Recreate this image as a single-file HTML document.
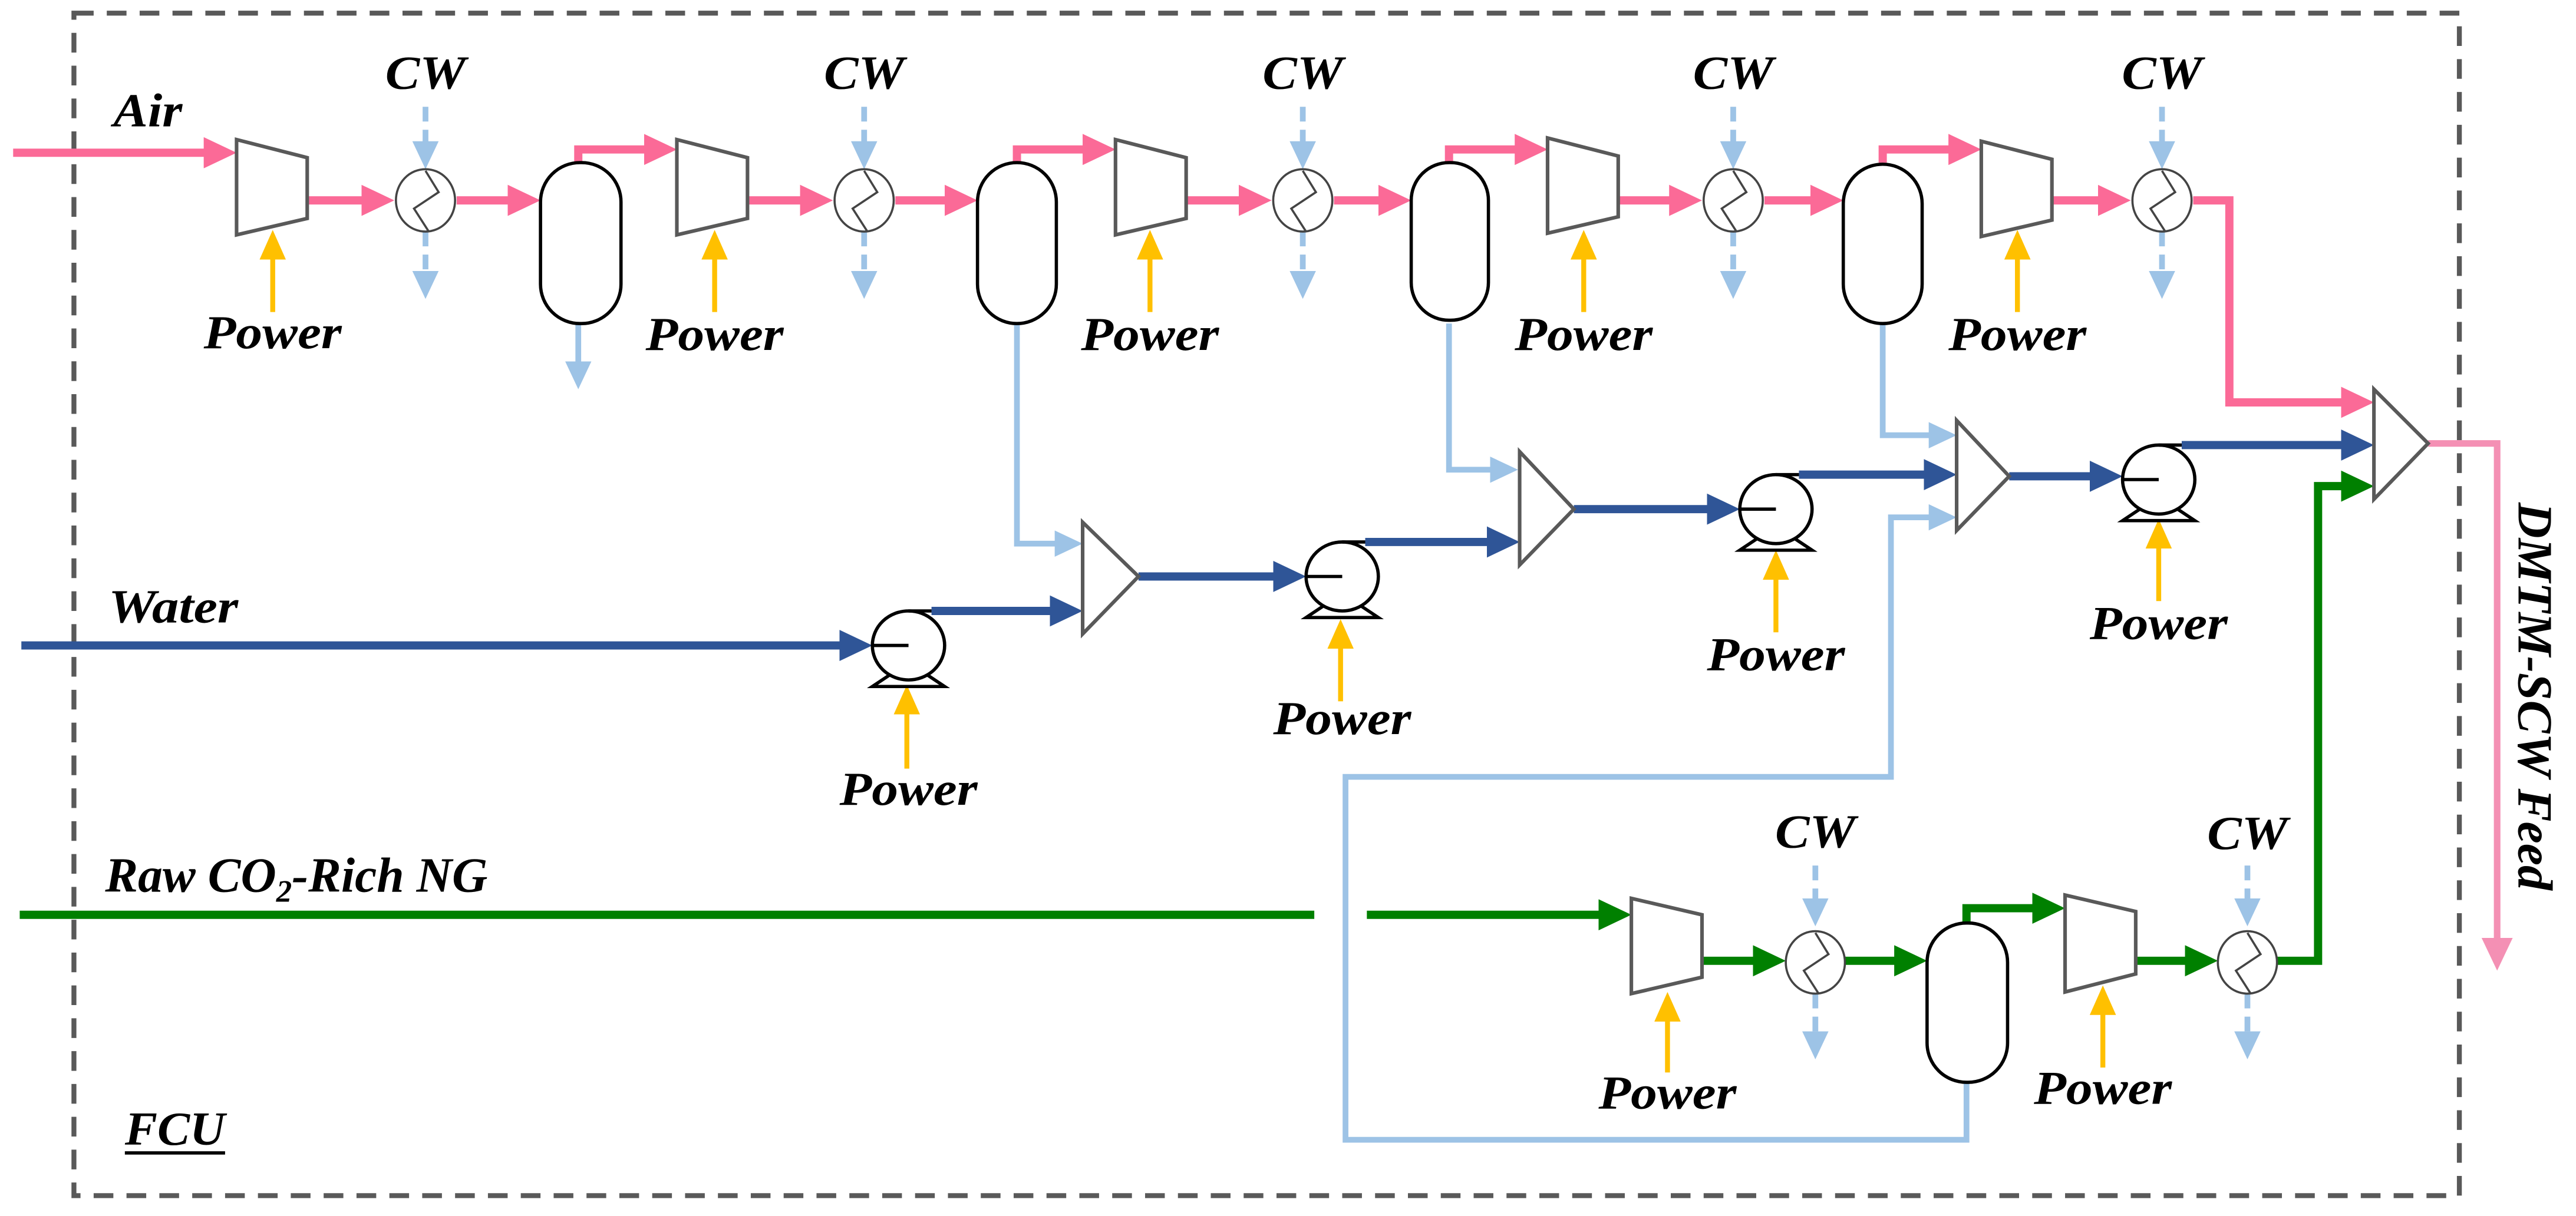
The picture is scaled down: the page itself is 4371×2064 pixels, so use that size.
<!DOCTYPE html>
<html><head><meta charset="utf-8"><style>
html,body{margin:0;padding:0;background:#fff;}
svg{display:block;}
text{font-family:"Liberation Serif",serif;font-weight:bold;font-style:italic;fill:#000;}
</style></head><body>
<svg width="4371" height="2064" viewBox="0 0 1568 740.4" preserveAspectRatio="none" xmlns="http://www.w3.org/2000/svg">
<defs>
<marker id="mP" markerUnits="userSpaceOnUse" markerWidth="20" markerHeight="19" refX="5" refY="9.5" orient="auto"><path d="M0,0 L20,9.5 L0,19 z" fill="#fb6a97"/></marker>
<marker id="mB" markerUnits="userSpaceOnUse" markerWidth="20" markerHeight="19" refX="5" refY="9.5" orient="auto"><path d="M0,0 L20,9.5 L0,19 z" fill="#2f5597"/></marker>
<marker id="mG" markerUnits="userSpaceOnUse" markerWidth="20" markerHeight="19" refX="5" refY="9.5" orient="auto"><path d="M0,0 L20,9.5 L0,19 z" fill="#008000"/></marker>
<marker id="mL" markerUnits="userSpaceOnUse" markerWidth="17" markerHeight="16" refX="5" refY="8" orient="auto"><path d="M0,0 L17,8 L0,16 z" fill="#9dc3e6"/></marker>
<marker id="mY" markerUnits="userSpaceOnUse" markerWidth="18" markerHeight="16" refX="3" refY="8" orient="auto"><path d="M0,0 L18,8 L0,16 z" fill="#ffc000"/></marker>
<marker id="mO" markerUnits="userSpaceOnUse" markerWidth="20" markerHeight="19" refX="5" refY="9.5" orient="auto"><path d="M0,0 L20,9.5 L0,19 z" fill="#f490b4"/></marker>
</defs>

<rect x="45" y="8" width="1452" height="720" fill="none" stroke="#595959" stroke-width="3" stroke-dasharray="12,8"/>

<g fill="none" stroke="#9dc3e6" stroke-width="3.5" marker-end="url(#mL)">
<path d="M352,197 V225"/>
<path d="M619,197 V331 H647"/>
<path d="M882,197 V286 H912"/>
<path d="M1146,197 V265 H1179"/>
<path d="M1197,659 V694 H819 V473 H1151 V315 H1179"/>
</g>
<g fill="none" stroke="#9dc3e6" stroke-width="3.5" stroke-dasharray="9,5" marker-end="url(#mL)">
<path d="M259,65 V91"/><path d="M259,141 V170"/>
<path d="M526,65 V91"/><path d="M526,141 V170"/>
<path d="M793,65 V91"/><path d="M793,141 V170"/>
<path d="M1055,65 V91"/><path d="M1055,141 V170"/>
<path d="M1316,65 V91"/><path d="M1316,141 V170"/>
<path d="M1105,527 V552"/><path d="M1105,605 V633"/>
<path d="M1368,527 V552"/><path d="M1368,605 V633"/>
</g>

<g fill="none" stroke="#fb6a97" stroke-width="5" marker-end="url(#mP)">
<path d="M8,93 H129"/>
<path d="M188,122 H225"/><path d="M278,122 H314"/><path d="M352,99 V91 H397"/>
<path d="M456,122 H492"/><path d="M545,122 H580"/><path d="M619,99 V91 H664"/>
<path d="M722,122 H759"/><path d="M812,122 H844"/><path d="M882,99 V91 H927"/>
<path d="M985,122 H1021"/><path d="M1074,122 H1107"/><path d="M1146,99 V91 H1191"/>
<path d="M1249,122 H1282"/><path d="M1335,122 H1357 V245 H1430"/>
</g>

<g fill="none" stroke="#2f5597" stroke-width="5" marker-end="url(#mB)">
<path d="M13,393 H516"/>
<path d="M567,372 H644"/>
<path d="M693,351 H780"/>
<path d="M831,330 H910"/>
<path d="M958,310 H1044"/>
<path d="M1095,289 H1176"/>
<path d="M1223,290 H1277"/>
<path d="M1328,271 H1430"/>
</g>

<path d="M12,557 H800" stroke="#008000" stroke-width="5" fill="none"/>
<g fill="none" stroke="#008000" stroke-width="5" marker-end="url(#mG)">
<path d="M832,557 H978"/>
<path d="M1037,585 H1072"/>
<path d="M1123,585 H1158"/>
<path d="M1197,562 V553 H1242"/>
<path d="M1301,585 H1335"/>
<path d="M1386,585 H1411 V296 H1430"/>
</g>

<path d="M1478,270 H1520 V576" fill="none" stroke="#f490b4" stroke-width="4" marker-end="url(#mO)"/>

<g fill="none" stroke="#ffc000" stroke-width="3" marker-end="url(#mY)">
<path d="M166,190 V155"/><path d="M435,190 V155"/><path d="M700,190 V155"/><path d="M964,190 V155"/><path d="M1228,190 V155"/>
<path d="M552,468 V432"/><path d="M816,427 V392"/><path d="M1081,385 V350"/><path d="M1314,366 V331"/>
<path d="M1015,653 V619"/><path d="M1280,650 V615"/>
</g>

<g fill="#fff" stroke="#595959" stroke-width="2.2">
<polygon points="144,85 187,96 187,133 144,143"/>
<polygon points="412,85 455,96 455,133 412,143"/>
<polygon points="679,85 722,96 722,133 679,143"/>
<polygon points="942,84 985,95 985,132 942,142"/>
<polygon points="1206,86 1249,97 1249,134 1206,144"/>
<polygon points="993,547 1036,557 1036,595 993,605"/>
<polygon points="1257,545 1300,555 1300,593 1257,604"/>
<polygon points="659,318 693,351 659,386"/>
<polygon points="925,275 958,310 925,344"/>
<polygon points="1191,256 1223,290 1191,323"/>
<polygon points="1445,237 1478,270 1445,304"/>
</g>

<g fill="#fff" stroke="#444" stroke-width="1.3">
<ellipse cx="259" cy="122" rx="18" ry="19"/><path d="M259,104 l8,13 l-15,10 l9,14" fill="none"/>
<ellipse cx="526" cy="122" rx="18" ry="19"/><path d="M526,104 l8,13 l-15,10 l9,14" fill="none"/>
<ellipse cx="793" cy="122" rx="18" ry="19"/><path d="M793,104 l8,13 l-15,10 l9,14" fill="none"/>
<ellipse cx="1055" cy="122" rx="18" ry="19"/><path d="M1055,104 l8,13 l-15,10 l9,14" fill="none"/>
<ellipse cx="1316" cy="122" rx="18" ry="19"/><path d="M1316,104 l8,13 l-15,10 l9,14" fill="none"/>
<ellipse cx="1105" cy="586" rx="18" ry="19"/><path d="M1105,568 l8,13 l-15,10 l9,14" fill="none"/>
<ellipse cx="1368" cy="586" rx="18" ry="19"/><path d="M1368,568 l8,13 l-15,10 l9,14" fill="none"/>
</g>

<g fill="#fff" stroke="#000" stroke-width="2">
<rect x="329" y="99" width="49" height="98" rx="24" ry="24"/>
<rect x="595" y="99" width="48" height="98" rx="24" ry="24"/>
<rect x="859" y="99" width="47" height="96" rx="23" ry="23"/>
<rect x="1122" y="100" width="48" height="97" rx="24" ry="24"/>
<rect x="1173" y="562" width="49" height="97" rx="24" ry="24"/>
</g>

<g fill="#fff" stroke="#000" stroke-width="2">
<polygon points="543,410 531,418 575,418 563,410"/>
<ellipse cx="553" cy="393" rx="22" ry="21"/>
<path d="M531,393 H553 M553,372 H567" fill="none"/>
<polygon points="807,368 795,376 839,376 827,368"/>
<ellipse cx="817" cy="351" rx="22" ry="21"/>
<path d="M795,351 H817 M817,330 H831" fill="none"/>
<polygon points="1071,327 1059,335 1103,335 1091,327"/>
<ellipse cx="1081" cy="310" rx="22" ry="21"/>
<path d="M1059,310 H1081 M1081,289 H1095" fill="none"/>
<polygon points="1304,309 1292,317 1336,317 1324,309"/>
<ellipse cx="1314" cy="292" rx="22" ry="21"/>
<path d="M1292,292 H1314 M1314,271 H1328" fill="none"/>
</g>

<g font-size="29">
<text x="69" y="77" textLength="42" lengthAdjust="spacingAndGlyphs">Air</text>
<text x="66" y="379" textLength="79" lengthAdjust="spacingAndGlyphs">Water</text>
<text x="64" y="543" font-size="30">Raw CO<tspan font-size="19" dy="6">2</tspan><tspan dy="-6">-Rich NG</tspan></text>
<text x="76" y="697" textLength="61" lengthAdjust="spacingAndGlyphs">FCU</text>
</g>
<line x1="76" y1="702" x2="137" y2="702" stroke="#000" stroke-width="2"/>
<g font-size="29" text-anchor="middle">
<text x="259" y="54" textLength="49" lengthAdjust="spacingAndGlyphs">CW</text>
<text x="526" y="54" textLength="49" lengthAdjust="spacingAndGlyphs">CW</text>
<text x="793" y="54" textLength="49" lengthAdjust="spacingAndGlyphs">CW</text>
<text x="1055" y="54" textLength="49" lengthAdjust="spacingAndGlyphs">CW</text>
<text x="1316" y="54" textLength="49" lengthAdjust="spacingAndGlyphs">CW</text>
<text x="1105" y="516" textLength="49" lengthAdjust="spacingAndGlyphs">CW</text>
<text x="1368" y="517" textLength="49" lengthAdjust="spacingAndGlyphs">CW</text>
<text x="166" y="212" textLength="84" lengthAdjust="spacingAndGlyphs">Power</text>
<text x="435" y="213" textLength="84" lengthAdjust="spacingAndGlyphs">Power</text>
<text x="700" y="213" textLength="84" lengthAdjust="spacingAndGlyphs">Power</text>
<text x="964" y="213" textLength="84" lengthAdjust="spacingAndGlyphs">Power</text>
<text x="1228" y="213" textLength="84" lengthAdjust="spacingAndGlyphs">Power</text>
<text x="553" y="490" textLength="84" lengthAdjust="spacingAndGlyphs">Power</text>
<text x="817" y="447" textLength="84" lengthAdjust="spacingAndGlyphs">Power</text>
<text x="1081" y="408" textLength="84" lengthAdjust="spacingAndGlyphs">Power</text>
<text x="1314" y="389" textLength="84" lengthAdjust="spacingAndGlyphs">Power</text>
<text x="1015" y="675" textLength="84" lengthAdjust="spacingAndGlyphs">Power</text>
<text x="1280" y="672" textLength="84" lengthAdjust="spacingAndGlyphs">Power</text>
</g>
<text transform="translate(1533,306) rotate(90)" x="0" y="0" font-size="30" textLength="236" lengthAdjust="spacingAndGlyphs">DMTM-SCW Feed</text>
</svg>
</body></html>
